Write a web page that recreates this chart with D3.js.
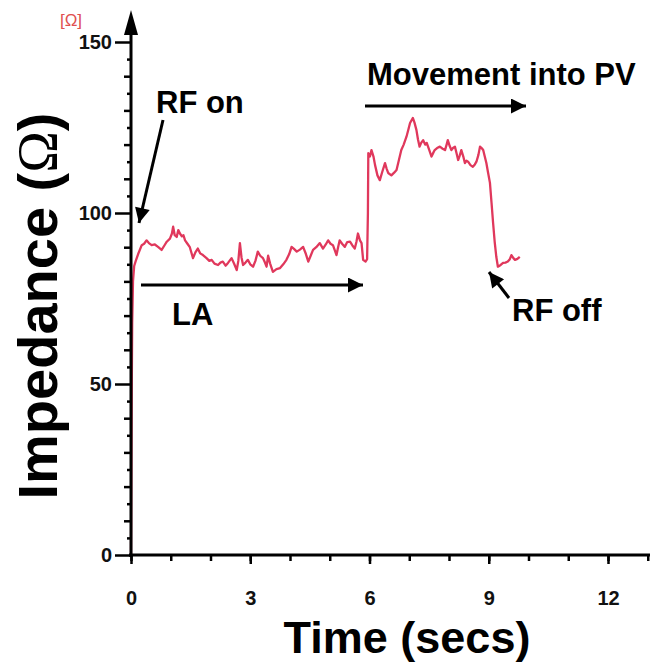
<!DOCTYPE html>
<html><head><meta charset="utf-8">
<script src="https://cdn.jsdelivr.net/npm/d3@7"></script>
<style>
body{margin:0;background:#fff}
svg{display:block}
text{font-family:"Liberation Sans",Arial,Helvetica,sans-serif}
</style>
</head><body>
<svg id="c" width="650" height="664"></svg>
<script>
// ---- data ----
const timeSecs = [
  0, 0.01, 0.02, 0.03, 0.05, 0.08, 0.12, 0.18, 0.27, 0.33,
  0.39, 0.45, 0.52, 0.6, 0.68, 0.77, 0.84, 0.9, 0.98, 1.03,
  1.06, 1.1, 1.15, 1.19, 1.23, 1.28, 1.32, 1.36, 1.42, 1.48,
  1.56, 1.62, 1.68, 1.74, 1.81, 1.9, 1.97, 2.03, 2.1, 2.19,
  2.25, 2.31, 2.38, 2.44, 2.53, 2.6, 2.66, 2.7, 2.74, 2.78,
  2.82, 2.88, 2.94, 3.0, 3.07, 3.13, 3.19, 3.25, 3.32, 3.37,
  3.41, 3.45, 3.5, 3.57, 3.66, 3.75, 3.83, 3.91, 3.98, 4.04,
  4.1, 4.17, 4.25, 4.33, 4.4, 4.46, 4.52, 4.58, 4.66, 4.75,
  4.83, 4.9, 4.96, 5.02, 5.08, 5.13, 5.17, 5.21, 5.25, 5.31,
  5.38, 5.44, 5.51, 5.57, 5.63, 5.67, 5.71, 5.76, 5.8, 5.84,
  5.9, 5.94, 5.96, 5.97, 6.01, 6.05, 6.1, 6.14, 6.2, 6.26,
  6.32, 6.39, 6.43, 6.47, 6.55, 6.62, 6.68, 6.74, 6.8, 6.86,
  6.93, 6.98, 7.02, 7.09, 7.13, 7.18, 7.22, 7.26, 7.3, 7.35,
  7.4, 7.44, 7.5, 7.56, 7.6, 7.64, 7.7, 7.77, 7.84, 7.9,
  7.94, 7.97, 8.02, 8.06, 8.1, 8.15, 8.19, 8.23, 8.27, 8.31,
  8.36, 8.4, 8.44, 8.48, 8.54, 8.6, 8.65, 8.69, 8.74, 8.78,
  8.82, 8.86, 8.9, 8.94, 8.98, 9.03, 9.07, 9.11, 9.15, 9.19,
  9.23, 9.3, 9.36, 9.42, 9.48, 9.53, 9.57, 9.62, 9.66, 9.72,
  9.78
];
const impedanceOhm = [
  0, 25, 50, 68, 80, 84.5, 86, 88, 90.6, 91,
  92, 91.2, 90.6, 90.8, 90.1, 89.2, 90.5, 91.6, 92.5, 94,
  96, 93.5, 93, 95, 94, 93.2, 93.5, 92, 91, 90,
  86.8, 88.5, 89.6, 88.2, 87.7, 86.8, 86, 86.3, 85.2, 84.8,
  85.5, 85.8, 84.6, 85.4, 86.8, 85, 83.3, 86, 91.2, 87,
  84.8, 85.5, 86.3, 85, 84.3, 86, 88.7, 87.5, 86.8, 85.5,
  84.3, 87.5, 85.2, 82.8, 83.6, 83.9, 85, 86.3, 88, 90.1,
  89.5, 88.7, 89.3, 90.1, 88, 85.8, 87.5, 89.2, 90, 91.2,
  89.6, 90.8, 92, 91, 90.6, 89, 87.7, 90, 92, 91,
  90.1, 91.5, 91.6, 90.5, 89.6, 91.5, 94, 92, 91.2, 86.3,
  85.8, 86.5, 100, 117.5, 116.5, 118.4, 116.5, 114, 111, 109.6,
  112, 114.6, 113, 111.7, 111, 111.8, 112.6, 115.5, 118.4, 120,
  122.3, 124.5, 126.3, 127.8, 126.5, 124.3, 121.5, 119.4, 120.5, 121.3,
  120, 120.5, 118.5, 116.5, 117.5, 118.4, 119, 119.4, 118.8, 118.4,
  120, 121.3, 119.5, 118.4, 119, 119.4, 117.5, 115.5, 116.8, 118.4,
  116.5, 114.6, 115.3, 115, 114, 113.5, 114.2, 115, 117, 119.4,
  119, 118.4, 116.5, 114.6, 112, 108.8, 103, 97, 91.5, 87.2,
  84.3, 84.8, 85.4, 85.5, 85.8, 86.5, 87.7, 86.8, 86.3, 86.6,
  87.2
];
const xTickLabels = [0, 3, 6, 9, 12];
const xMinorTicks = [0,1,2,3,4,5,6,7,8,9,10,11,12,13];
const yTickLabels = [0, 50, 100, 150];
const yMinorTicks = [5,10,15,20,25,30,35,40,45,55,60,65,70,75,80,85,90,95,105,110,115,120,125,130,135,140,145];
const unitLabel = "[Ω]";
const xTitle = "Time (secs)";
const yTitleMain = "Impedance (";
const yTitleSym = "Ω";
const annotations = ["RF on", "LA", "Movement into PV", "RF off"];

// ---- drawing ----
const svg = d3.select("#c");
const x = d3.scaleLinear().domain([0, 13]).range([131, 131 + 13 * 39.75]);
const y = d3.scaleLinear().domain([0, 150]).range([555, 42]);

const defs = svg.append("defs");
defs.append("marker").attr("id", "ah")
  .attr("viewBox", "0 0 10 10").attr("refX", 10).attr("refY", 5)
  .attr("markerUnits", "userSpaceOnUse")
  .attr("orient", "auto")
  .attr("markerWidth", 18).attr("markerHeight", 15)
  .append("path").attr("d", "M0,0 L10,5 L0,10 Z").attr("fill", "#000");

// trace
const line = d3.line().x((d, i) => x(timeSecs[i])).y(d => y(d));
svg.append("path").datum(impedanceOhm)
  .attr("d", line).attr("fill", "none")
  .attr("stroke", "#e0385c").attr("stroke-width", 2.3)
  .attr("stroke-linejoin", "round");

// x axis
const xAxisMinor = d3.axisBottom(x).tickValues(xMinorTicks).tickSize(6).tickFormat("");
const gxm = svg.append("g").attr("transform", `translate(0,${y(0)})`).call(xAxisMinor);
const xAxisMajor = d3.axisBottom(x).tickValues(xTickLabels).tickSize(9).tickPadding(27).tickFormat(d3.format("d"));
const gx = svg.append("g").attr("transform", `translate(0,${y(0)})`).call(xAxisMajor);
[gx, gxm].forEach(g => {
  g.select(".domain").remove();
  g.selectAll("line").attr("stroke", "#000").attr("stroke-width", 2.5);
});
gx.selectAll("text").attr("font-size", 20).attr("font-weight", "bold").attr("fill", "#111")
  .attr("font-family", '"Liberation Sans",Arial,sans-serif');
svg.append("line").attr("x1", x(0) - 2).attr("x2", 650).attr("y1", y(0)).attr("y2", y(0))
  .attr("stroke", "#000").attr("stroke-width", 3);

// y axis
const yAxisMinor = d3.axisLeft(y).tickValues(yMinorTicks).tickSize(6).tickFormat("");
const gym = svg.append("g").attr("transform", `translate(${x(0)},0)`).call(yAxisMinor);
gym.selectAll(".tick line").attr("x2", (d) => d % 10 === 0 ? -7 : -4);
const yAxisMajor = d3.axisLeft(y).tickValues(yTickLabels).tickSize(16).tickPadding(3).tickFormat(d3.format("d"));
const gy = svg.append("g").attr("transform", `translate(${x(0)},0)`).call(yAxisMajor);
[gy, gym].forEach(g => {
  g.select(".domain").remove();
  g.selectAll("line").attr("stroke", "#000").attr("stroke-width", 2.5);
});
gy.selectAll("text").attr("font-size", 20).attr("font-weight", "bold").attr("fill", "#111")
  .attr("font-family", '"Liberation Sans",Arial,sans-serif');
svg.append("line").attr("x1", x(0)).attr("x2", x(0)).attr("y1", y(0) + 2).attr("y2", 26)
  .attr("stroke", "#000").attr("stroke-width", 3);
svg.append("path").attr("d", `M${x(0)},10 L${x(0) - 7},35 L${x(0) + 7},35 Z`).attr("fill", "#000");

// unit label
svg.append("text").attr("x", 71).attr("y", 26).attr("text-anchor", "middle")
  .attr("font-size", 17).attr("fill", "#e05050").text(unitLabel);

// axis titles
svg.append("text").attr("x", 407).attr("y", 653).attr("text-anchor", "middle")
  .attr("font-size", 45).attr("font-weight", "bold").attr("fill", "#000").text(xTitle);
const yt = svg.append("text").attr("transform", "translate(57,306) rotate(-90)")
  .attr("text-anchor", "middle").attr("font-size", 56).attr("font-weight", "bold").attr("fill", "#000");
yt.append("tspan").text(yTitleMain);
yt.append("tspan").attr("font-family", '"Liberation Serif",serif').attr("font-weight", "normal").text(yTitleSym);
yt.append("tspan").text(")");

// annotations
const annFont = 31;
function label(t, px, py) {
  svg.append("text").attr("x", px).attr("y", py).attr("font-size", annFont)
    .attr("font-weight", "bold").attr("fill", "#000").text(t);
}
function arrow(x1, y1, x2, y2) {
  svg.append("line").attr("x1", x1).attr("y1", y1).attr("x2", x2).attr("y2", y2)
    .attr("stroke", "#000").attr("stroke-width", 3).attr("marker-end", "url(#ah)");
}
label(annotations[0], 156, 113);
arrow(163, 120, 139, 223);
label(annotations[1], 172, 325);
arrow(141, 285, 363, 285);
label(annotations[2], 367, 85);
arrow(365, 106, 526, 106);
label(annotations[3], 512, 321);
arrow(509, 298, 489, 272);
</script>
</body></html>
